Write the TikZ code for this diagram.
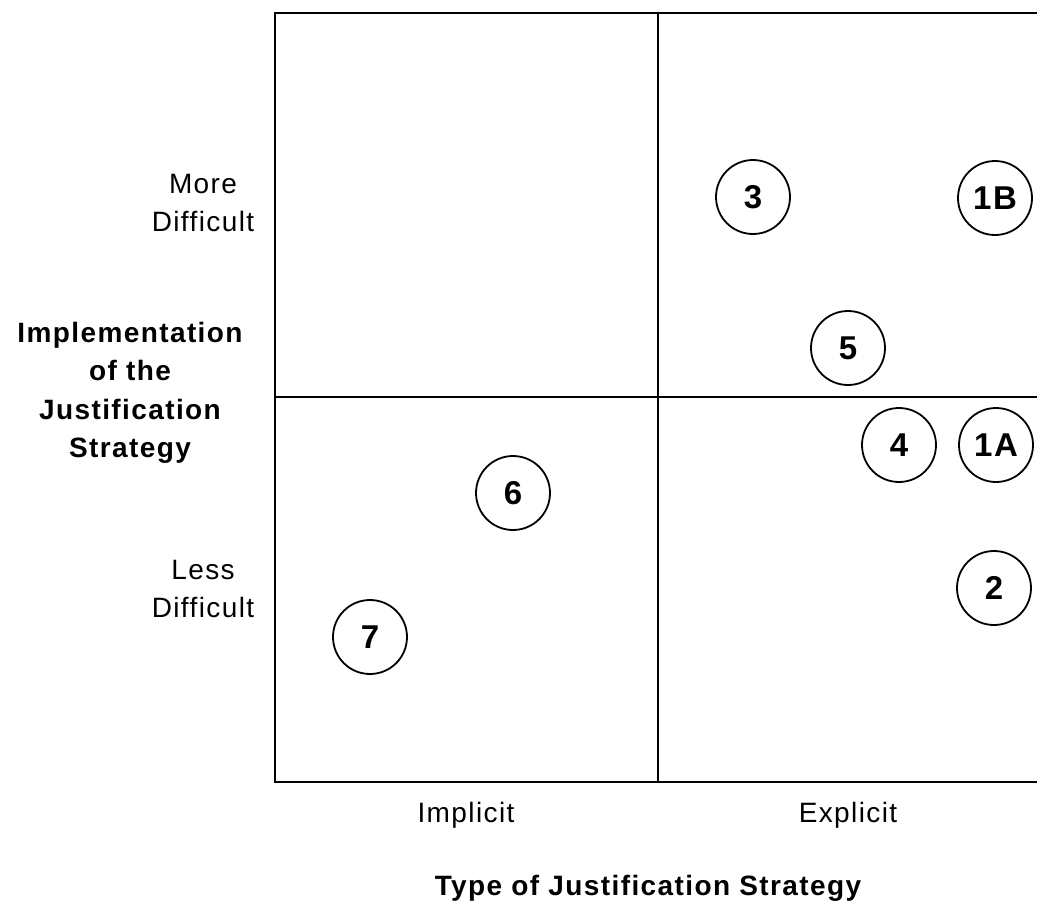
\documentclass[tikz,border=0pt]{standalone}
\usepackage{fontspec}
\setmainfont{Liberation Sans}
\newfontfamily\labelfont{Liberation Sans}[LetterSpace=5]
\newfontfamily\headfont{Liberation Sans}[LetterSpace=5]
\begin{document}
\begin{tikzpicture}[x=1pt,y=-1pt,
  gridline/.style={line width=2.4pt},
  point/.style={circle,draw,line width=1.8pt,minimum size=74pt,inner sep=0pt,
    font=\headfont\bfseries\fontsize{33}{33}\selectfont},
  axislabel/.style={align=center,inner sep=0pt,
    font=\labelfont\fontsize{28}{38}\selectfont},
  axistitle/.style={align=center,inner sep=0pt,
    font=\headfont\bfseries\fontsize{28}{38.5}\selectfont}]
\useasboundingbox (0,0) rectangle (1037,907);

% quadrant frame, open on the right
\coordinate (tr) at (1040,13);
\coordinate (tl) at (275,13);
\coordinate (bl) at (275,782);
\coordinate (br) at (1040,782);
\coordinate (vt) at (658,13);
\coordinate (vb) at (658,782);
\coordinate (hl) at (275,397);
\coordinate (hr) at (1040,397);
\draw[gridline] (tr) -- (tl) -- (bl) -- (br);
\draw[gridline] (vt) -- (vb);
\draw[gridline] (hl) -- (hr);

% strategies
\node[point] (p3)  at (753,197) {3};
\node[point] (p1B) at (995,198) {1B};
\node[point] (p5)  at (848,348) {5};
\node[point] (p4)  at (899,445) {4};
\node[point] (p1A) at (996,445) {1A};
\node[point] (p6)  at (513,493) {6};
\node[point] (p2)  at (994,588) {2};
\node[point] (p7)  at (370,637) {7};

% axis labels
\node[axislabel] (more) at (203,203) {More\\Difficult};
\node[axislabel] (less) at (203,589) {Less\\Difficult};
\node[axislabel] (impl) at (466,815) {Implicit};
\node[axislabel] (expl) at (848,815) {Explicit};

% axis titles
\node[axistitle] (ytitle) at (130,393) {Implementation\\of the\\Justification\\Strategy};
\node[axistitle] (xtitle) at (648,888) {Type of Justification Strategy};
\end{tikzpicture}
\end{document}
